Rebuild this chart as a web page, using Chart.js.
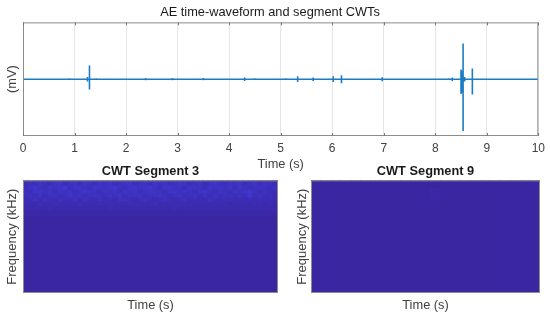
<!DOCTYPE html>
<html>
<head>
<meta charset="utf-8">
<script src="https://cdn.jsdelivr.net/npm/chart.js@4"></script>
<style>
  html, body { margin: 0; padding: 0; background: #fff; width: 550px; height: 319px; overflow: hidden; }
  canvas { position: absolute; }
  #wave { left: 0; top: 0; }
  #seg3 { left: 0; top: 155px; }
  #seg9 { left: 290px; top: 155px; }
</style>
</head>
<body>
<canvas id="wave" width="550" height="172"></canvas>
<canvas id="seg3" width="290" height="164"></canvas>
<canvas id="seg9" width="260" height="164"></canvas>
<script>
const FONT = '"Liberation Sans", Arial, sans-serif';

// waveform: time of each burst and how far it swings up / down (mV)
const burstTimes = [0.36, 0.52, 0.9, 1.25, 1.29, 1.42, 2.38, 2.9, 3.5, 4.02, 4.3, 4.5, 5.1, 5.33, 5.63, 6.02, 6.18, 6.97, 7.23, 8.26, 8.33, 8.5, 8.52, 8.54, 8.57, 8.72, 9.3];
const burstUp =    [0.01, 0.01, 0.015, 0.04, 0.24, 0.015, 0.02, 0.02, 0.02, 0.01, 0.03, 0.015, 0.015, 0.05, 0.03, 0.05, 0.07, 0.035, 0.01, 0.015, 0.03, 0.17, 0.15, 0.63, 0.04, 0.19, 0.01];
const burstDown =  [0.01, 0.01, 0.015, 0.04, 0.18, 0.015, 0.02, 0.02, 0.02, 0.01, 0.03, 0.015, 0.015, 0.05, 0.03, 0.05, 0.07, 0.035, 0.01, 0.015, 0.03, 0.26, 0.24, 0.91, 0.04, 0.27, 0.01];
const timeTicks = [0, 1, 2, 3, 4, 5, 6, 7, 8, 9, 10];

// CWT magnitude, top rows first, columns left to right
const seg3Rows = [
  [3,3,3,4,3,3,4,3,3,3,4,3,3,3,4,3,3,4,3,3,3,4,3,3,3,3,4,3,3,4,3,3,3,4,3,3,3,4,3,3,3,3,4,3,3,3,3,3,3,3,3],
  [3,5,4,6,5,4,6,7,4,5,6,4,7,5,4,6,5,7,4,5,6,7,4,5,6,4,7,5,6,4,5,7,6,4,5,6,4,5,7,5,4,6,5,7,4,5,6,4,6,5,4],
  [4,6,7,5,4,7,5,6,8,4,6,7,5,4,7,6,5,6,8,5,4,6,7,5,6,8,5,4,6,7,5,6,4,7,6,5,4,7,5,6,5,7,4,6,5,4,5,6,5,4,5],
  [5,4,6,7,5,6,4,7,5,6,4,5,7,6,5,4,7,5,6,4,7,5,6,4,5,7,6,5,4,6,7,5,6,5,4,6,7,5,4,6,5,4,6,5,6,8,5,4,5,4,4],
  [4,5,4,6,4,5,6,4,5,7,5,6,4,5,6,5,4,6,5,7,4,5,5,6,4,5,5,6,5,4,5,6,4,5,6,4,5,4,6,4,5,5,4,5,4,8,4,5,4,4,3],
  [3,4,5,3,5,4,3,5,4,4,5,3,5,4,3,5,4,4,3,5,5,4,3,4,5,4,3,4,5,4,3,4,5,3,4,4,3,5,4,3,4,4,3,4,3,4,3,4,3,3,3],
  [3,3,2,4,3,3,4,3,3,3,3,4,3,3,3,4,3,3,3,3,3,4,3,3,3,3,4,3,3,3,3,3,3,3,3,3,3,3,3,3,3,2,3,3,3,2,3,3,2,3,2],
  [2,2,2,2,2,3,2,2,2,2,2,2,2,2,2,2,2,3,2,2,2,2,2,2,2,2,2,2,2,2,3,2,2,2,2,2,2,2,2,2,2,2,2,2,2,2,2,2,2,2,2],
  [1,1,1,1,1,1,1,1,1,1,1,1,1,1,1,1,1,1,1,1,1,1,1,1,1,1,1,1,1,1,1,1,1,1,1,1,1,1,1,1,1,1,1,1,1,1,1,1,1,1,1],
  [0,0,0,0,0,0,0,0,0,0,0,0,0,0,0,0,0,0,0,0,0,0,0,0,0,0,0,0,0,0,0,0,0,0,0,0,0,0,0,0,0,0,0,0,0,0,0,0,0,0,0]
];
const seg9Rows = [
  [0,0,0,0,0,0,0,0,0,0,0,0,0,0,0,0,0,0,0,0,0,0,0],
  [0,0,0,0,0,0,0,0,0,0,0,0,1,0,0,0,0,0,0,0,0,0,0],
  [0,0,0,0,0,0,0,0,0,0,0,0,0,0,0,0,0,0,0,0,0,0,0]
];
// band height of each row, the last band takes the rest of the axis
const seg3Bands = [2, 4, 4, 4, 4, 4, 4, 5, 6, 76];
const seg9Bands = [8, 12, 93];

function waveData() {
    let pts = [{x: 0, y: 0}];
    for (let i = 0; i < burstTimes.length; i++) {
        pts.push({x: burstTimes[i], y: 0});
        pts.push({x: burstTimes[i], y: burstUp[i]});
        pts.push({x: burstTimes[i], y: -burstDown[i]});
        pts.push({x: burstTimes[i], y: 0});
    }
    pts.push({x: 10, y: 0});
    return pts;
}

function cellColor(v) {
    let r = 59 + v * 0.5;
    let g = 38 + v * 2.2;
    let b = 162 + v * 5.5;
    return `rgb(${parseInt(r)},${parseInt(g)},${parseInt(b)})`;
}

const frame = {
    id: 'frame',
    afterDraw(chart) {
        let a = chart.chartArea, c = chart.ctx;
        c.save();
        c.strokeStyle = '#8c8c8c';
        c.lineWidth = 1;
        c.strokeRect(a.left + 0.5, a.top + 0.5, a.width - 1, a.height - 1);
        if (chart.options.plugins.frame.inwardTicks) {
            c.strokeStyle = '#777';
            chart.scales.x.ticks.forEach((t, i) => {
                let x = Math.round(chart.scales.x.getPixelForTick(i)) + 0.5;
                c.beginPath();
                c.moveTo(x, a.top); c.lineTo(x, a.top + 3);
                c.moveTo(x, a.bottom); c.lineTo(x, a.bottom - 3);
                c.stroke();
            });
        }
        c.restore();
    }
};

function waveChart(id) {
    new Chart(document.getElementById(id), {
        type: 'line',
        data: {
            datasets: [{
                data: waveData(),
                borderColor: '#1a7cc4',
                borderWidth: 1.6,
                pointRadius: 0,
                tension: 0
            }]
        },
        options: {
            responsive: false,
            animation: false,
            layout: { padding: { left: 0, right: 10, top: 0, bottom: 0 } },
            plugins: {
                legend: { display: false },
                frame: { inwardTicks: true },
                title: {
                    display: true,
                    text: 'AE time-waveform and segment CWTs',
                    color: '#1a1a1a',
                    font: { family: FONT, size: 12.8, weight: 'normal' },
                    padding: { top: 5, bottom: 2 }
                }
            },
            scales: {
                x: {
                    type: 'linear',
                    min: 0,
                    max: 10,
                    afterBuildTicks(s) { s.ticks = timeTicks.map(v => ({value: v})); },
                    grid: { color: '#e6e6e6', drawTicks: false },
                    border: { display: false },
                    ticks: { color: '#404040', font: { family: FONT, size: 12 }, padding: 5, maxRotation: 0 },
                    title: { display: true, text: 'Time (s)', color: '#404040', font: { family: FONT, size: 12.8 }, padding: { top: 0, bottom: 0 } },
                    afterFit(s) { s.height = 36; }
                },
                y: {
                    min: -1,
                    max: 1,
                    grid: { display: false },
                    border: { display: false },
                    ticks: { display: false },
                    title: { display: true, text: '(mV)', color: '#404040', font: { family: FONT, size: 12.8 }, padding: { top: 5, bottom: 0 } },
                    afterFit(s) { s.width = 23; }
                }
            }
        },
        plugins: [frame]
    });
}

function cwtChart(id, title, rows, bands, axisWidth, padRight) {
    let cols = rows[0].map((_, i) => i);
    // stacked from the bottom, so the last row goes first
    let datasets = [];
    for (let r = rows.length - 1; r >= 0; r--) {
        datasets.push({
            data: cols.map(() => bands[r]),
            backgroundColor: rows[r].map(cellColor),
            borderWidth: 0,
            inflateAmount: 0.6,
            barPercentage: 1,
            categoryPercentage: 1
        });
    }
    new Chart(document.getElementById(id), {
        type: 'bar',
        data: { labels: cols, datasets: datasets },
        options: {
            responsive: false,
            animation: false,
            layout: { padding: { left: 0, right: padRight, top: 0, bottom: 0 } },
            plugins: {
                legend: { display: false },
                tooltip: { enabled: false },
                frame: { inwardTicks: false },
                title: {
                    display: true,
                    fullSize: false,
                    text: title,
                    color: '#1a1a1a',
                    font: { family: FONT, size: 12.8, weight: 'bold' },
                    padding: { top: 9, bottom: 1 }
                }
            },
            scales: {
                x: {
                    stacked: true,
                    grid: { display: false },
                    border: { display: false },
                    ticks: { display: false },
                    title: { display: true, text: 'Time (s)', color: '#404040', font: { family: FONT, size: 12.8 }, padding: { top: 4, bottom: 6 } },
                    afterFit(s) { s.height = 26; }
                },
                y: {
                    stacked: true,
                    min: 0,
                    max: 113,
                    grid: { display: false },
                    border: { display: false },
                    ticks: { display: false },
                    title: { display: true, text: 'Frequency (kHz)', color: '#404040', font: { family: FONT, size: 13 }, padding: { top: 5, bottom: 0 } },
                    afterFit(s) { s.width = axisWidth; }
                }
            }
        },
        plugins: [frame]
    });
}

waveChart('wave');
cwtChart('seg3', 'CWT Segment 3', seg3Rows, seg3Bands, 23, 12);
cwtChart('seg9', 'CWT Segment 9', seg9Rows, seg9Bands, 21, 10);
</script>
</body>
</html>
